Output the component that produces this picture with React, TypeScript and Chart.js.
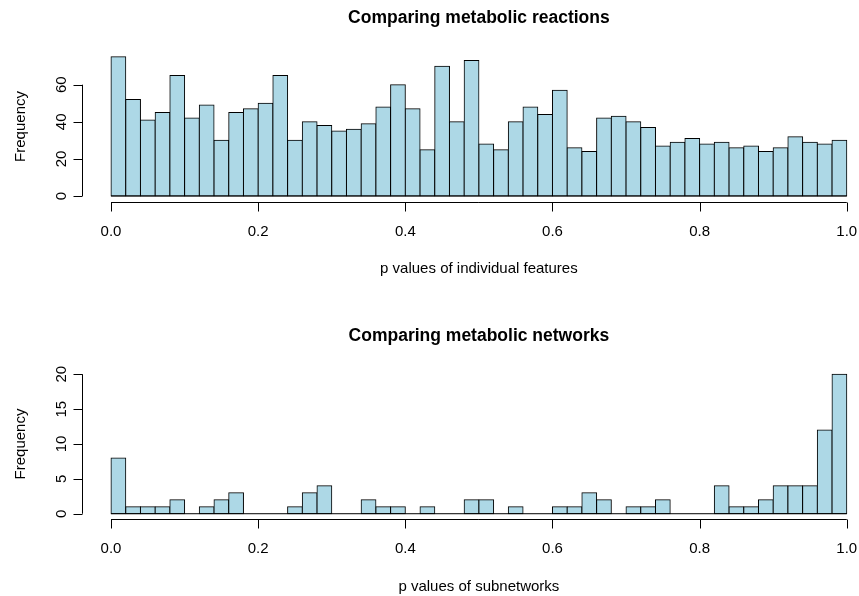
import React, { useEffect, useRef } from "react";
import { Chart, registerables } from "chart.js";

Chart.register(...registerables);

// Histogram bins (width 0.02 from 0 to 1), given by their midpoints
const BIN_MIDS = [
  0.01, 0.03, 0.05, 0.07, 0.09, 0.11, 0.13, 0.15, 0.17, 0.19,
  0.21, 0.23, 0.25, 0.27, 0.29, 0.31, 0.33, 0.35, 0.37, 0.39,
  0.41, 0.43, 0.45, 0.47, 0.49, 0.51, 0.53, 0.55, 0.57, 0.59,
  0.61, 0.63, 0.65, 0.67, 0.69, 0.71, 0.73, 0.75, 0.77, 0.79,
  0.81, 0.83, 0.85, 0.87, 0.89, 0.91, 0.93, 0.95, 0.97, 0.99,
];

const REACTION_COUNTS = [
  75, 52, 41, 45, 65, 42, 49, 30, 45, 47,
  50, 65, 30, 40, 38, 35, 36, 39, 48, 60,
  47, 25, 70, 40, 73, 28, 25, 40, 48, 44,
  57, 26, 24, 42, 43, 40, 37, 27, 29, 31,
  28, 29, 26, 27, 24, 26, 32, 29, 28, 30,
];

const NETWORK_COUNTS = [
  8, 1, 1, 1, 2, 0, 1, 2, 3, 0,
  0, 0, 1, 3, 4, 0, 0, 2, 1, 1,
  0, 1, 0, 0, 2, 2, 0, 1, 0, 0,
  1, 1, 3, 2, 0, 1, 1, 2, 0, 0,
  0, 4, 1, 1, 2, 4, 4, 4, 12, 20,
];

const X_TICKS = [0, 0.2, 0.4, 0.6, 0.8, 1.0];
const REACTION_Y_TICKS = [0, 20, 40, 60];
const NETWORK_Y_TICKS = [0, 5, 10, 15, 20];

const TITLE_REACTIONS = "Comparing metabolic reactions";
const TITLE_NETWORKS = "Comparing metabolic networks";
const XLABEL_REACTIONS = "p values of individual features";
const XLABEL_NETWORKS = "p values of subnetworks";
const YLABEL = "Frequency";

const FONT_FAMILY = '"Liberation Sans", Arial, Helvetica, sans-serif';

type PanelProps = {
  title: string;
  xLabel: string;
  counts: number[];
  yTicks: number[];
  padTop: number;
  padBottom: number;
  top: number;
};

function HistPanel(props: PanelProps) {
  const ref = useRef<HTMLCanvasElement | null>(null);

  useEffect(() => {
    const canvas = ref.current;
    if (!canvas) return;
    const { title, xLabel, counts, yTicks } = props;
    const yMax = Math.max(...counts);

    const rStyle = {
      id: "rStyle",
      afterDraw(chart: any) {
        const ctx = chart.ctx as CanvasRenderingContext2D;
        const a = chart.chartArea;
        const xs = chart.scales.x;
        const ys = chart.scales.y;
        ctx.save();
        ctx.strokeStyle = "#000";
        ctx.fillStyle = "#000";
        ctx.lineWidth = 1;

        // baseline under the bars (zero-height bins show as a line)
        const y0 = ys.getPixelForValue(0);
        ctx.beginPath();
        ctx.moveTo(xs.getPixelForValue(0), y0);
        ctx.lineTo(xs.getPixelForValue(1), y0);
        ctx.stroke();

        // x axis (R style: offset below plot, spans ticks only)
        const ax = Math.round(a.bottom) + 0.5;
        ctx.beginPath();
        ctx.moveTo(xs.getPixelForValue(X_TICKS[0]), ax);
        ctx.lineTo(xs.getPixelForValue(X_TICKS[X_TICKS.length - 1]), ax);
        X_TICKS.forEach((t) => {
          const px = Math.round(xs.getPixelForValue(t)) + 0.5;
          ctx.moveTo(px, ax);
          ctx.lineTo(px, ax + 9);
        });
        ctx.stroke();

        ctx.font = `15px ${FONT_FAMILY}`;
        ctx.textAlign = "center";
        ctx.textBaseline = "alphabetic";
        X_TICKS.forEach((t) => {
          ctx.fillText(t.toFixed(1), xs.getPixelForValue(t), a.bottom + 34);
        });
        const midX = (a.left + a.right) / 2;
        ctx.fillText(xLabel, midX, a.bottom + 71.7);

        // y axis
        const ay = Math.round(a.left) + 0.5;
        ctx.beginPath();
        ctx.moveTo(ay, ys.getPixelForValue(yTicks[0]));
        ctx.lineTo(ay, ys.getPixelForValue(yTicks[yTicks.length - 1]));
        yTicks.forEach((t) => {
          const py = Math.round(ys.getPixelForValue(t)) + 0.5;
          ctx.moveTo(ay, py);
          ctx.lineTo(ay - 9, py);
        });
        ctx.stroke();

        yTicks.forEach((t) => {
          ctx.save();
          ctx.translate(a.left - 16, ys.getPixelForValue(t));
          ctx.rotate(-Math.PI / 2);
          ctx.fillText(String(t), 0, 0);
          ctx.restore();
        });
        ctx.save();
        ctx.translate(a.left - 57.1, (a.top + a.bottom) / 2);
        ctx.rotate(-Math.PI / 2);
        ctx.fillText(YLABEL, 0, 0);
        ctx.restore();

        // main title
        ctx.font = `bold 17.5px ${FONT_FAMILY}`;
        ctx.fillText(title, midX, a.top - 28);
        ctx.restore();
      },
    };

    const chart = new Chart(canvas, {
      type: "bar",
      data: {
        datasets: [
          {
            data: BIN_MIDS.map((m, i) => ({ x: m, y: counts[i] })),
            backgroundColor: "#ADD8E6",
            borderColor: "#000000",
            borderWidth: 1,
            borderSkipped: false,
            inflateAmount: 0.5,
            barPercentage: 1,
            categoryPercentage: 1,
          } as any,
        ],
      },
      options: {
        responsive: false,
        animation: false,
        events: [],
        layout: {
          padding: { left: 81.6, right: 1.8, top: props.padTop, bottom: props.padBottom },
        },
        plugins: {
          legend: { display: false },
          tooltip: { enabled: false },
          title: { display: false },
        },
        scales: {
          x: {
            type: "linear",
            display: false,
            offset: false,
            min: -0.04,
            max: 1.04,
          },
          y: {
            type: "linear",
            display: false,
            min: -0.04 * yMax,
            max: 1.04 * yMax,
          },
        },
      },
      plugins: [rStyle],
    });

    return () => chart.destroy();
  }, [props]);

  return (
    <canvas
      ref={ref}
      width={878}
      height={298}
      style={{ position: "absolute", left: 0, top: props.top, width: 878, height: 298 }}
    />
  );
}

const TOP_PANEL: PanelProps = {
  title: TITLE_REACTIONS,
  xLabel: XLABEL_REACTIONS,
  counts: REACTION_COUNTS,
  yTicks: REACTION_Y_TICKS,
  padTop: 51.3,
  padBottom: 96.4,
  top: 0,
};

const BOTTOM_PANEL: PanelProps = {
  title: TITLE_NETWORKS,
  xLabel: XLABEL_NETWORKS,
  counts: NETWORK_COUNTS,
  yTicks: NETWORK_Y_TICKS,
  padTop: 70.7,
  padBottom: 76.7,
  top: 298,
};

export default function App() {
  return (
    <div
      style={{
        position: "fixed",
        left: 0,
        top: 0,
        width: 859,
        height: 596,
        overflow: "hidden",
        background: "#ffffff",
      }}
    >
      <HistPanel {...TOP_PANEL} />
      <HistPanel {...BOTTOM_PANEL} />
    </div>
  );
}
